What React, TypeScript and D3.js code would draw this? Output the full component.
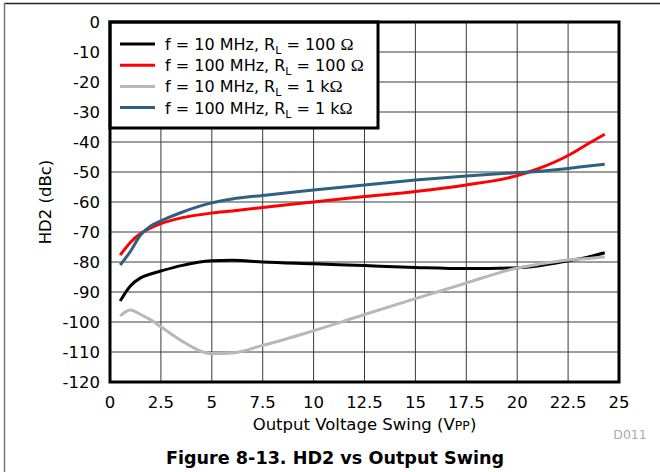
import * as d3 from "d3";

const voltage = [0.5, 1, 1.5, 2, 2.5, 3.5, 5, 6, 7.5, 10, 12.5, 15, 17.5, 20, 21, 22.5, 23.5, 24.3];

const hd2_10M_100 = [-93, -88, -85.3, -84, -83, -81.2, -79.6, -79.4, -80, -80.6, -81.2, -81.8, -82.2, -81.9, -81.3, -79.6, -78.3, -76.9];
const hd2_100M_100 = [-77.7, -73.5, -70.5, -68.6, -67.2, -65.3, -63.7, -63, -61.8, -60, -58.2, -56.5, -54.3, -51.2, -49, -44.5, -40.5, -37.4];
const hd2_10M_1k = [-98, -96, -97.5, -99.3, -101.6, -106.2, -110.5, -110.3, -107.8, -102.9, -97.5, -92.2, -87, -82, -80.8, -79.3, -78.8, -78.3];
const hd2_100M_1k = [-81, -76.5, -71, -68, -66.3, -63.5, -60.3, -59, -57.8, -56, -54.3, -52.7, -51.3, -50.2, -49.8, -48.8, -48, -47.4];

const xTicks = [0, 2.5, 5, 7.5, 10, 12.5, 15, 17.5, 20, 22.5, 25];
const yTicks = [0, -10, -20, -30, -40, -50, -60, -70, -80, -90, -100, -110, -120];

const seriesLoad = ["100 ", "100 ", "1 k", "1 k"];
const seriesFreq = ["10", "100", "10", "100"];
const seriesColors = ["#000000", "#ff0000", "#b8b8b8", "#2e6180"];
const seriesValues = [hd2_10M_100, hd2_100M_100, hd2_10M_1k, hd2_100M_1k];

const font = "DejaVu Sans, Verdana, sans-serif";
const serif = "Liberation Serif, Times New Roman, serif";

export default function App() {
  const left = 110;
  const right = 619;
  const top = 22;
  const bottom = 382;

  const x = d3.scaleLinear().domain([0, 25]).range([left, right]);
  const y = d3.scaleLinear().domain([-120, 0]).range([bottom, top]);

  const lineFor = (vals: number[]) =>
    d3
      .line<number>()
      .curve(d3.curveMonotoneX)
      .x((_, i) => x(voltage[i]))
      .y((d) => y(d))(vals) ?? "";

  return (
    <svg
      width={660}
      height={472}
      style={{ position: "absolute", left: 0, top: 0, background: "#fff" }}
      fontFamily={font}
    >
      {/* outer frame */}
      <line x1={4} x2={660} y1={3.5} y2={3.5} stroke="#222" strokeWidth={1.5} />
      <line x1={4.5} x2={4.5} y1={3} y2={472} stroke="#777" strokeWidth={1.5} />

      {/* grid */}
      {xTicks.map((t) => (
        <line key={"gx" + t} x1={x(t)} x2={x(t)} y1={top} y2={bottom} stroke="#3a3a3a" strokeWidth={1} />
      ))}
      {yTicks.map((t) => (
        <line key={"gy" + t} x1={left} x2={right} y1={y(t)} y2={y(t)} stroke="#3a3a3a" strokeWidth={1} />
      ))}

      {/* curves */}
      {seriesValues.map((vals, i) => (
        <path key={"s" + i} d={lineFor(vals)} fill="none" stroke={seriesColors[i]} strokeWidth={3} />
      ))}

      {/* legend */}
      <rect x={left} y={top} width={268} height={106} fill="#fff" stroke="#000" strokeWidth={3} />
      {seriesValues.map((_, i) => {
        const ly = 44 + i * 21.2;
        return (
          <g key={"l" + i}>
            <line x1={120} x2={155} y1={ly} y2={ly} stroke={seriesColors[i]} strokeWidth={3} />
            <text x={165} y={ly + 6} fontSize={16} fill="#000">
              {`f = ${seriesFreq[i]} MHz, R`}
              <tspan fontSize={11} dy={4}>L</tspan>
              <tspan dy={-4}>{` = ${seriesLoad[i]}`}</tspan>
              <tspan fontFamily={serif} fontSize={17.5}>Ω</tspan>
            </text>
          </g>
        );
      })}

      {/* plot frame */}
      <rect x={left} y={top} width={right - left} height={bottom - top} fill="none" stroke="#000" strokeWidth={3} />

      {/* tick labels */}
      {yTicks.map((t) => (
        <text key={"ty" + t} x={100} y={y(t) + 6} textAnchor="end" fontSize={16.5} fill="#000">
          {t}
        </text>
      ))}
      {xTicks.map((t) => (
        <text key={"tx" + t} x={x(t)} y={408} textAnchor="middle" fontSize={16.5} fill="#000">
          {t}
        </text>
      ))}

      {/* axis titles */}
      <text x={(left + right) / 2} y={430} textAnchor="middle" fontSize={16.5} fill="#000">
        Output Voltage Swing (V<tspan fontSize={12.5}>PP</tspan>)
      </text>
      <text
        transform={`translate(45, ${(top + bottom) / 2}) rotate(-90)`}
        textAnchor="middle"
        dy={6}
        fontSize={16.5}
        fill="#000"
      >
        HD2 (dBc)
      </text>
      <text x={630} y={439} textAnchor="middle" fontSize={12.5} fill="#aaa">
        D011
      </text>

      <text x={335} y={464} textAnchor="middle" fontSize={17.6} fontWeight="bold" fill="#000">
        Figure 8-13. HD2 vs Output Swing
      </text>
    </svg>
  );
}
